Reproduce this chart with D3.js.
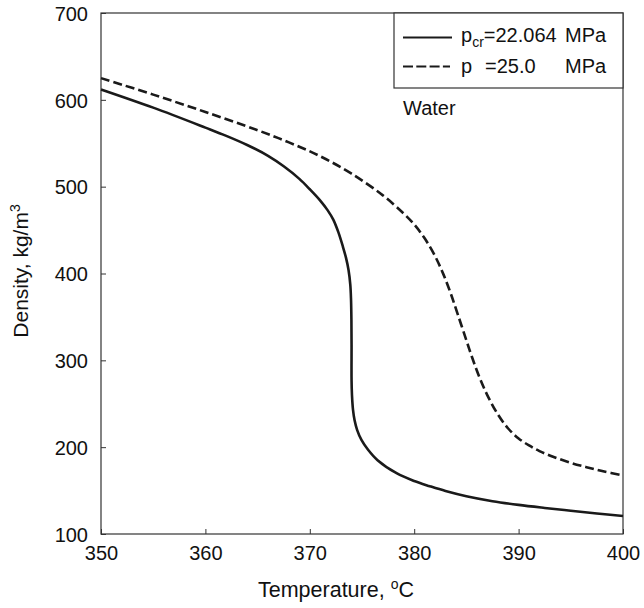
<!DOCTYPE html>
<html>
<head>
<meta charset="utf-8">
<script src="https://cdn.jsdelivr.net/npm/d3@7/dist/d3.min.js"></script>
<style>
  html, body { margin: 0; padding: 0; background: #fff; }
  svg { display: block; font-family: "Liberation Sans", Arial, Helvetica, sans-serif; }
</style>
</head>
<body>
<svg id="chart" width="644" height="608"></svg>
<script>
// ---- data ----
const xTicks = [350, 360, 370, 380, 390, 400];
const yTicks = [100, 200, 300, 400, 500, 600, 700];

// p_cr = 22.064 MPa (solid)
const critTemp = [350, 355, 360, 362, 364, 366, 367.5, 369, 370, 371, 371.7, 372.25, 372.75, 373.18, 373.47, 373.71, 373.88, 373.95, 373.986, 374.0, 374.0, 374.04, 374.14, 374.29, 374.53, 374.96, 375.58, 376.49, 378.31, 380, 381.5, 383, 385, 387.5, 390, 392.5, 395, 397.5, 400];
const critDens = [612, 591, 568, 558.5, 548, 535.5, 523.5, 509, 497, 484, 473, 462, 447, 430.5, 418, 404, 387, 369.5, 346.5, 318, 277, 260, 243, 231, 220, 208, 197, 185, 170, 161, 155, 149.5, 143.5, 137.8, 133.5, 130, 126.8, 123.7, 120.7];

// p = 25.0 MPa (dashed)
const p25Temp = [350, 355, 360, 365, 368, 371, 374, 377, 379, 380, 381, 382, 382.8, 383.5, 384.2, 385, 385.5, 386.2, 387, 388, 389, 390, 391, 392, 393.3, 395, 396.5, 398, 400];
const p25Dens = [625, 606, 586, 565, 551, 535, 515, 490, 469, 456.5, 440.5, 420, 399, 377, 352, 323, 305, 282, 260, 238, 221.5, 210, 202, 195.5, 189, 182, 177, 172.5, 167.5];

// ---- layout ----
const svg = d3.select("#chart");
const mLeft = 101, mRight = 623, mTop = 13, mBottom = 534;
const x = d3.scaleLinear().domain([350, 400]).range([mLeft, mRight]);
const y = d3.scaleLinear().domain([100, 700]).range([mBottom, mTop]);
const axisColor = "#333";
const lineColor = "#1a1a1a";
const FONT = "\"Liberation Sans\", Arial, Helvetica, sans-serif";

// axes
const xAxis = d3.axisBottom(x).tickValues(xTicks).tickSize(-5).tickSizeOuter(0).tickPadding(12);
const yAxis = d3.axisLeft(y).tickValues(yTicks).tickSize(-5).tickSizeOuter(0).tickPadding(13);

const gx = svg.append("g").attr("transform", `translate(0,${mBottom})`).call(xAxis);
const gy = svg.append("g").attr("transform", `translate(${mLeft},0)`).call(yAxis);
[gx, gy].forEach(g => {
  g.select(".domain").remove();
  g.selectAll(".tick line").attr("stroke", axisColor).attr("stroke-width", 1);
  g.selectAll(".tick text").attr("fill", "#111").style("font-size", "20px").style("font-family", FONT);
});
gx.selectAll(".tick text").attr("dy", "0.7em");
gy.selectAll(".tick text").attr("dy", "0.36em");

// frame
svg.append("rect")
  .attr("x", mLeft).attr("y", mTop)
  .attr("width", mRight - mLeft).attr("height", mBottom - mTop)
  .attr("fill", "none").attr("stroke", axisColor).attr("stroke-width", 1.2);

// curves
const line = d3.line().x(d => x(d[0])).y(d => y(d[1])).curve(d3.curveCatmullRom.alpha(0.5));
const critPts = critTemp.map((t, i) => [t, critDens[i]]);
const p25Pts = p25Temp.map((t, i) => [t, p25Dens[i]]);

svg.append("path").datum(critPts).attr("d", line)
  .attr("fill", "none").attr("stroke", lineColor).attr("stroke-width", 2.6);
svg.append("path").datum(p25Pts).attr("d", line)
  .attr("fill", "none").attr("stroke", lineColor).attr("stroke-width", 2.6)
  .attr("stroke-dasharray", "9,4");

// axis titles
const xt = svg.append("text").attr("x", 258).attr("y", 597)
  .attr("text-anchor", "start").attr("fill", "#111").style("font-size", "21.5px");
xt.append("tspan").text("Temperature, ");
xt.append("tspan").attr("dy", "-8").style("font-size", "14px").text("o");
xt.append("tspan").attr("dy", "8").text("C");

const yt = svg.append("text").attr("transform", "translate(28,271) rotate(-90)")
  .attr("text-anchor", "middle").attr("fill", "#111").style("font-size", "21px");
yt.append("tspan").text("Density, kg/m");
yt.append("tspan").attr("dy", "-8").style("font-size", "14px").text("3");

// legend
const lg = svg.append("g");
lg.append("rect").attr("x", 394).attr("y", mTop).attr("width", mRight - 394).attr("height", 75)
  .attr("fill", "#fff").attr("stroke", axisColor).attr("stroke-width", 1.2);
lg.append("line").attr("x1", 403).attr("x2", 452).attr("y1", 37.5).attr("y2", 37.5)
  .attr("stroke", lineColor).attr("stroke-width", 2);
lg.append("line").attr("x1", 403).attr("x2", 450).attr("y1", 66.5).attr("y2", 66.5)
  .attr("stroke", lineColor).attr("stroke-width", 2).attr("stroke-dasharray", "10,3.3");

const fs = "20px";
const t1 = lg.append("text").attr("x", 461).attr("y", 42).attr("fill", "#111").style("font-size", fs);
t1.append("tspan").text("p");
t1.append("tspan").attr("dy", "5").style("font-size", "14px").text("cr");
t1.append("tspan").attr("dy", "-5").text("=22.064");
lg.append("text").attr("x", 565).attr("y", 42).attr("fill", "#111").style("font-size", fs).text("MPa");

lg.append("text").attr("x", 461).attr("y", 73).attr("fill", "#111").style("font-size", fs).text("p");
lg.append("text").attr("x", 485).attr("y", 73).attr("fill", "#111").style("font-size", fs).text("=25.0");
lg.append("text").attr("x", 565).attr("y", 73).attr("fill", "#111").style("font-size", fs).text("MPa");

svg.append("text").attr("x", 403).attr("y", 115).attr("fill", "#111").style("font-size", "20px").text("Water");
</script>
</body>
</html>
